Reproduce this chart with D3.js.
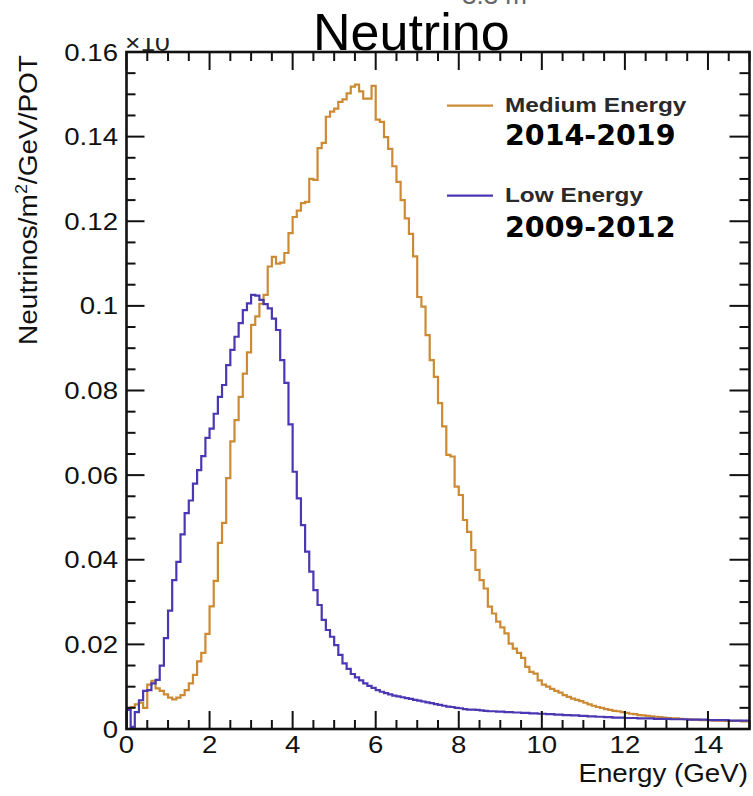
<!DOCTYPE html>
<html><head><meta charset="utf-8">
<script src="https://cdn.jsdelivr.net/npm/d3@7/dist/d3.min.js"></script>
<style>html,body{margin:0;padding:0;background:#fff;}svg{display:block;}</style>
</head><body>
<script>
// ---- DATA ----
const binWidth = 0.1;            // GeV
const xDomain = [0, 15];
const yDomain = [0, 0.16];
const xTickLabels = ["0","2","4","6","8","10","12","14"];
const yTickLabels = ["0","0.02","0.04","0.06","0.08","0.1","0.12","0.14","0.16"];
const seriesNames = ["Medium Energy", "Low Energy"];
const seriesYears = ["2014-2019", "2009-2012"];

// Medium Energy flux (per 0.1 GeV bin, 0-15 GeV)
const mediumEnergy = [
 0.0048,0.0052,0.0058,0.0062,0.0050,0.0105,0.0114,0.0096,0.0090,0.0082,
 0.0074,0.0070,0.0074,0.0080,0.0092,0.0108,0.0128,0.0160,0.0180,0.0225,
 0.0290,0.0350,0.0440,0.0487,0.0593,0.0680,0.0730,0.0785,0.0840,0.0890,
 0.0955,0.0975,0.1005,0.1026,0.1093,0.1116,0.1100,0.1102,0.1125,0.1172,
 0.1210,0.1225,0.1243,0.1246,0.1300,0.1298,0.1373,0.1385,0.1447,0.1459,
 0.1466,0.1482,0.1488,0.1502,0.1518,0.1523,0.1507,0.1490,0.1490,0.1520,
 0.1440,0.1435,0.1399,0.1371,0.1330,0.1293,0.1250,0.1207,0.1170,0.1117,
 0.1021,0.0998,0.0931,0.0872,0.0832,0.0770,0.0715,0.0648,0.0644,0.0573,
 0.0553,0.0494,0.0466,0.0423,0.0376,0.0352,0.0332,0.0289,0.0273,0.0254,
 0.0240,0.0226,0.0202,0.0190,0.0180,0.0168,0.0147,0.0135,0.0131,0.0115,
 0.0105,0.0100,0.0095,0.0090,0.0086,0.0080,0.0076,0.0072,0.0069,0.0066,
 0.0062,0.0058,0.0055,0.0052,0.0050,0.0047,0.0045,0.0043,0.0042,0.0040,
 0.0038,0.0036,0.0035,0.0033,0.0032,0.0031,0.0030,0.0029,0.0028,0.0027,
 0.0026,0.0025,0.0025,0.0024,0.0023,0.0023,0.0022,0.0022,0.0021,0.0021,
 0.0021,0.0020,0.0020,0.0020,0.0019,0.0019,0.0019,0.0019,0.0018,0.0018
];
// Low Energy flux (per 0.1 GeV bin, 0-15 GeV)
const lowEnergy = [
 0.0045,0.0005,0.0040,0.0068,0.0090,0.0092,0.0108,0.0116,0.0150,0.0215,
 0.0280,0.0352,0.0395,0.0460,0.0510,0.0540,0.0580,0.0612,0.0645,0.0688,
 0.0710,0.0745,0.0785,0.0813,0.0860,0.0896,0.0927,0.0959,0.0990,0.1006,
 0.1026,0.1024,0.1014,0.1004,0.0994,0.0970,0.0943,0.0872,0.0818,0.0720,
 0.0608,0.0545,0.0482,0.0419,0.0372,0.0328,0.0293,0.0258,0.0234,0.0218,
 0.0198,0.0175,0.0155,0.0142,0.0130,0.0122,0.0115,0.0108,0.0102,0.0097,
 0.0092,0.0088,0.0085,0.0082,0.0079,0.0077,0.0075,0.0073,0.0071,0.0069,
 0.0067,0.0065,0.0063,0.0061,0.0059,0.0057,0.0055,0.0053,0.0052,0.0050,
 0.0049,0.0047,0.0046,0.0046,0.0045,0.0044,0.0043,0.0042,0.0042,0.0041,
 0.0041,0.0040,0.0040,0.0039,0.0039,0.0038,0.0038,0.0037,0.0037,0.0036,
 0.0036,0.0035,0.0035,0.0034,0.0034,0.0033,0.0033,0.0032,0.0032,0.0031,
 0.0031,0.0030,0.0030,0.0029,0.0029,0.0028,0.0028,0.0027,0.0027,0.0027,
 0.0026,0.0026,0.0026,0.0025,0.0025,0.0025,0.0025,0.0024,0.0024,0.0024,
 0.0024,0.0023,0.0023,0.0023,0.0023,0.0022,0.0022,0.0022,0.0022,0.0022,
 0.0021,0.0021,0.0021,0.0021,0.0021,0.0020,0.0020,0.0020,0.0020,0.0020
];

// ---- LAYOUT ----
const W = 753, H = 796;
const L = 126.5, R = 749.5, T = 52, B = 729;
const ORANGE = "#cd8a35", BLUE = "#4a38b2";
const FONT = "'Liberation Sans', Arial, Helvetica, sans-serif";

const svg = d3.select("body").append("svg").attr("width", W).attr("height", H);
svg.append("rect").attr("width", W).attr("height", H).attr("fill", "#fff");

const x = d3.scaleLinear().domain(xDomain).range([L, R]);
const y = d3.scaleLinear().domain(yDomain).range([B, T]);

svg.append("clipPath").attr("id", "plotclip").append("rect")
  .attr("x", L).attr("y", T).attr("width", R - L).attr("height", B - T);

// histograms
function histPoints(vals) {
  const pts = [[xDomain[0], 0]];
  vals.forEach((v, i) => pts.push([xDomain[0] + i * binWidth, v]));
  pts.push([xDomain[1], vals[vals.length - 1]]);
  return pts;
}
const line = d3.line().x(d => x(d[0])).y(d => y(d[1])).curve(d3.curveStepAfter);
const gH = svg.append("g").attr("clip-path", "url(#plotclip)");
gH.append("path").attr("d", line(histPoints(mediumEnergy)))
  .attr("fill", "none").attr("stroke", ORANGE).attr("stroke-width", 2.2);
gH.append("path").attr("d", line(histPoints(lowEnergy)))
  .attr("fill", "none").attr("stroke", BLUE).attr("stroke-width", 2.2);

// ticks (ROOT style, inward on all four sides)
const gT = svg.append("g").attr("stroke", "#111").attr("stroke-width", 2);
const xMinor = d3.range(0, 15.001, 0.5);
const xMajor = xTickLabels.map(Number);
const yMinor = d3.range(0, 0.16001, 0.005);
const yMajor = yTickLabels.map(Number);
xMinor.forEach(t => {
  const big = xMajor.some(m => Math.abs(m - t) < 1e-9);
  const len = big ? 18 : 9;
  gT.append("line").attr("x1", x(t)).attr("x2", x(t)).attr("y1", B).attr("y2", B - len);
  gT.append("line").attr("x1", x(t)).attr("x2", x(t)).attr("y1", T).attr("y2", T + len);
});
yMinor.forEach(t => {
  const big = yMajor.some(m => Math.abs(m - t) < 1e-9);
  gT.append("line").attr("x1", L).attr("x2", L + (big ? 18 : 9)).attr("y1", y(t)).attr("y2", y(t));
  gT.append("line").attr("x1", R).attr("x2", R - (big ? 20 : 10)).attr("y1", y(t)).attr("y2", y(t));
});

// frame
svg.append("rect").attr("x", L).attr("y", T).attr("width", R - L).attr("height", B - T)
  .attr("fill", "none").attr("stroke", "#111").attr("stroke-width", 2.6);

// tick labels
const SX = 1.15;
xTickLabels.forEach(s => {
  svg.append("text").attr("transform", `translate(${x(+s)},753) scale(${SX},1)`)
    .attr("text-anchor", "middle").attr("font-family", FONT).attr("font-size", 24)
    .attr("fill", "#111").text(s);
});
yTickLabels.forEach(s => {
  svg.append("text").attr("transform", `translate(118,${y(+s) + 8.6}) scale(${SX},1)`)
    .attr("text-anchor", "end").attr("font-family", FONT).attr("font-size", 24)
    .attr("fill", "#111").text(s);
});

// axis titles
svg.append("text").attr("transform", `translate(748,782) scale(1.11,1)`)
  .attr("text-anchor", "end").attr("font-family", FONT).attr("font-size", 25)
  .attr("fill", "#111").text("Energy (GeV)");

const yl = svg.append("text").attr("transform", `translate(37,200) rotate(-90) scale(1.12,1)`)
  .attr("text-anchor", "middle").attr("font-family", FONT).attr("font-size", 25)
  .attr("fill", "#111");
yl.append("tspan").text("Neutrinos/m");
yl.append("tspan").attr("font-size", 16).attr("dy", -10).text("2");
yl.append("tspan").attr("dy", 10).text("/GeV/POT");

// exponent label (partly covered, only its lower part shows)
svg.append("clipPath").attr("id", "expclip").append("rect")
  .attr("x", 120).attr("y", 38).attr("width", 80).attr("height", 14);
svg.append("g").attr("clip-path", "url(#expclip)")
  .append("text").attr("transform", `translate(125,51) scale(1.1,1)`)
  .attr("font-family", FONT).attr("font-size", 24).attr("fill", "#222").text("×10");

// title
svg.append("text").attr("x", 313).attr("y", 50).attr("font-family", FONT)
  .attr("font-size", 52).attr("fill", "#000").text("Neutrino");
svg.append("text").attr("x", 462).attr("y", 4).attr("font-family", FONT)
  .attr("font-size", 26).attr("fill", "#666").text("3.3 m");

// legend
const legend = [
  { color: ORANGE, name: seriesNames[0], years: seriesYears[0], ly: 105.7, ty: 111.7, yy: 145 },
  { color: BLUE, name: seriesNames[1], years: seriesYears[1], ly: 195.7, ty: 201.7, yy: 236.5 }
];
legend.forEach(d => {
  svg.append("line").attr("x1", 447).attr("x2", 493).attr("y1", d.ly).attr("y2", d.ly)
    .attr("stroke", d.color).attr("stroke-width", 2.2);
  svg.append("text").attr("transform", `translate(505,${d.ty}) scale(1.16,1)`)
    .attr("font-family", FONT).attr("font-weight", "bold").attr("font-size", 21)
    .attr("fill", "#2a2a2a").text(d.name);
  svg.append("text").attr("x", 505).attr("y", d.yy)
    .attr("font-family", "'DejaVu Sans', Verdana, sans-serif").attr("font-weight", "bold")
    .attr("font-size", 28.5).attr("fill", "#000").text(d.years);
});
</script>
</body></html>
